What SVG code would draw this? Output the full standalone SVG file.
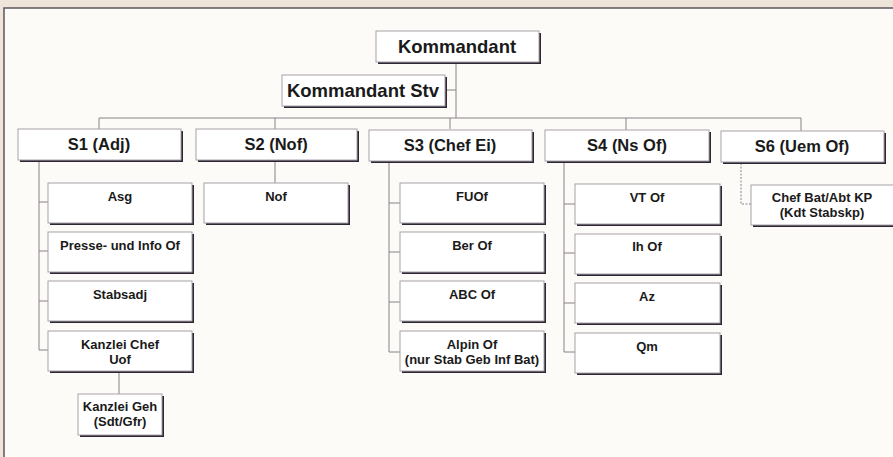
<svg xmlns="http://www.w3.org/2000/svg" width="893" height="457" viewBox="0 0 893 457">
<style>
.bg{fill:#efe4d9}
.inner{fill:#fcfbf7}
.frame{stroke:#5e5560;stroke-width:1.5;fill:none}
.sh{fill:#2e2535}
.box{fill:#ffffff;stroke:#a8a2a8;stroke-width:1}
.ln{stroke:#8a8088;stroke-width:1;fill:none}
.dash{stroke:#8a8088;stroke-width:1;fill:none;stroke-dasharray:2 1.5}
text{font-family:"Liberation Sans",Arial,sans-serif;font-weight:bold;fill:#1a1a1a;text-anchor:middle}
.t1{font-size:18.5px}
.t2{font-size:16.5px}
.t3{font-size:13px}
</style>
<rect class="bg" x="0" y="0" width="893" height="457"/>
<rect class="inner" x="4" y="8" width="889" height="449"/>
<path class="frame" d="M4,457 V8 H893"/>

<g id="connectors">
<path class="ln" d="M456,62 V118"/>
<path class="ln" d="M445,90 H456"/>
<path class="ln" d="M99,118 H801"/>
<path class="ln" d="M99,118 V129 M275,118 V129 M450,118 V129 M626,118 V130 M801,118 V131"/>
<path class="ln" d="M39,160 V350 M39,202 H48 M39,251 H48 M39,301 H48 M39,350 H48"/>
<path class="ln" d="M119,372 V394"/>
<path class="ln" d="M275,160 V183"/>
<path class="ln" d="M389,161 V352 M389,203 H400 M389,252 H400 M389,302 H400 M389,352 H400"/>
<path class="ln" d="M564,162 V352 M564,204 H575 M564,253 H575 M564,303 H575 M564,352 H575"/>
<path class="dash" d="M741,163 V204 H751"/>
</g>

<g id="n-kommandant">
<rect class="sh" x="378" y="33" width="163" height="31"/>
<rect class="box" x="376" y="31" width="163" height="31"/>
<text class="t1" x="457" y="52.5">Kommandant</text>
</g>
<g id="n-kommandant-stv">
<rect class="sh" x="284" y="77" width="163" height="31"/>
<rect class="box" x="282" y="75" width="163" height="31"/>
<text class="t1" x="363" y="96.5">Kommandant Stv</text>
</g>

<g id="n-s1">
<rect class="sh" x="20" y="131" width="163" height="31"/>
<rect class="box" x="18" y="129" width="163" height="31"/>
<text class="t2" x="99" y="150">S1 (Adj)</text>
</g>
<g id="n-s2">
<rect class="sh" x="198" y="131" width="161" height="31"/>
<rect class="box" x="196" y="129" width="161" height="31"/>
<text class="t2" x="276" y="150">S2 (Nof)</text>
</g>
<g id="n-s3">
<rect class="sh" x="371" y="132" width="163" height="31"/>
<rect class="box" x="369" y="130" width="163" height="31"/>
<text class="t2" x="450" y="151">S3 (Chef Ei)</text>
</g>
<g id="n-s4">
<rect class="sh" x="547" y="132" width="164" height="31"/>
<rect class="box" x="545" y="130" width="164" height="31"/>
<text class="t2" x="627" y="151">S4 (Ns Of)</text>
</g>
<g id="n-s6">
<rect class="sh" x="723" y="133" width="163" height="31"/>
<rect class="box" x="721" y="131" width="163" height="31"/>
<text class="t2" x="802" y="152">S6 (Uem Of)</text>
</g>

<g id="n-asg">
<rect class="sh" x="50" y="185" width="144" height="40"/>
<rect class="box" x="48" y="183" width="144" height="40"/>
<text class="t3" x="120" y="200.5">Asg</text>
</g>
<g id="n-presse">
<rect class="sh" x="50" y="234" width="144" height="40"/>
<rect class="box" x="48" y="232" width="144" height="40"/>
<text class="t3" x="120" y="249.5">Presse- und Info Of</text>
</g>
<g id="n-stabsadj">
<rect class="sh" x="50" y="283" width="144" height="40"/>
<rect class="box" x="48" y="281" width="144" height="40"/>
<text class="t3" x="120" y="298.5">Stabsadj</text>
</g>
<g id="n-kanzlei-chef">
<rect class="sh" x="50" y="333" width="144" height="40"/>
<rect class="box" x="48" y="331" width="144" height="40"/>
<text class="t3" x="120" y="348.5">Kanzlei Chef</text>
<text class="t3" x="120" y="363.5">Uof</text>
</g>
<g id="n-kanzlei-geh">
<rect class="sh" x="80" y="396" width="84" height="41"/>
<rect class="box" x="78" y="394" width="84" height="41"/>
<text class="t3" x="120" y="411">Kanzlei Geh</text>
<text class="t3" x="120" y="426">(Sdt/Gfr)</text>
</g>

<g id="n-nof">
<rect class="sh" x="206" y="185" width="144" height="40"/>
<rect class="box" x="204" y="183" width="144" height="40"/>
<text class="t3" x="276" y="200.5">Nof</text>
</g>

<g id="n-fuof">
<rect class="sh" x="402" y="185" width="144" height="40"/>
<rect class="box" x="400" y="183" width="144" height="40"/>
<text class="t3" x="472" y="200.5">FUOf</text>
</g>
<g id="n-ber">
<rect class="sh" x="402" y="234" width="144" height="40"/>
<rect class="box" x="400" y="232" width="144" height="40"/>
<text class="t3" x="472" y="249.5">Ber Of</text>
</g>
<g id="n-abc">
<rect class="sh" x="402" y="283" width="144" height="40"/>
<rect class="box" x="400" y="281" width="144" height="40"/>
<text class="t3" x="472" y="298.5">ABC Of</text>
</g>
<g id="n-alpin">
<rect class="sh" x="402" y="333" width="144" height="40"/>
<rect class="box" x="400" y="331" width="144" height="40"/>
<text class="t3" x="472" y="348.5">Alpin Of</text>
<text class="t3" x="472" y="363.5">(nur Stab Geb Inf Bat)</text>
</g>

<g id="n-vt">
<rect class="sh" x="577" y="186" width="145" height="40"/>
<rect class="box" x="575" y="184" width="145" height="40"/>
<text class="t3" x="647" y="201.5">VT Of</text>
</g>
<g id="n-ih">
<rect class="sh" x="577" y="236" width="145" height="40"/>
<rect class="box" x="575" y="234" width="145" height="40"/>
<text class="t3" x="647" y="251">Ih Of</text>
</g>
<g id="n-az">
<rect class="sh" x="577" y="285" width="145" height="40"/>
<rect class="box" x="575" y="283" width="145" height="40"/>
<text class="t3" x="647" y="300.5">Az</text>
</g>
<g id="n-qm">
<rect class="sh" x="577" y="335" width="145" height="40"/>
<rect class="box" x="575" y="333" width="145" height="40"/>
<text class="t3" x="647" y="350.5">Qm</text>
</g>

<g id="n-chef-bat">
<rect class="sh" x="753" y="187" width="145" height="40"/>
<rect class="box" x="751" y="185" width="145" height="40"/>
<text class="t3" x="822" y="202">Chef Bat/Abt KP</text>
<text class="t3" x="822" y="217">(Kdt Stabskp)</text>
</g>
</svg>
